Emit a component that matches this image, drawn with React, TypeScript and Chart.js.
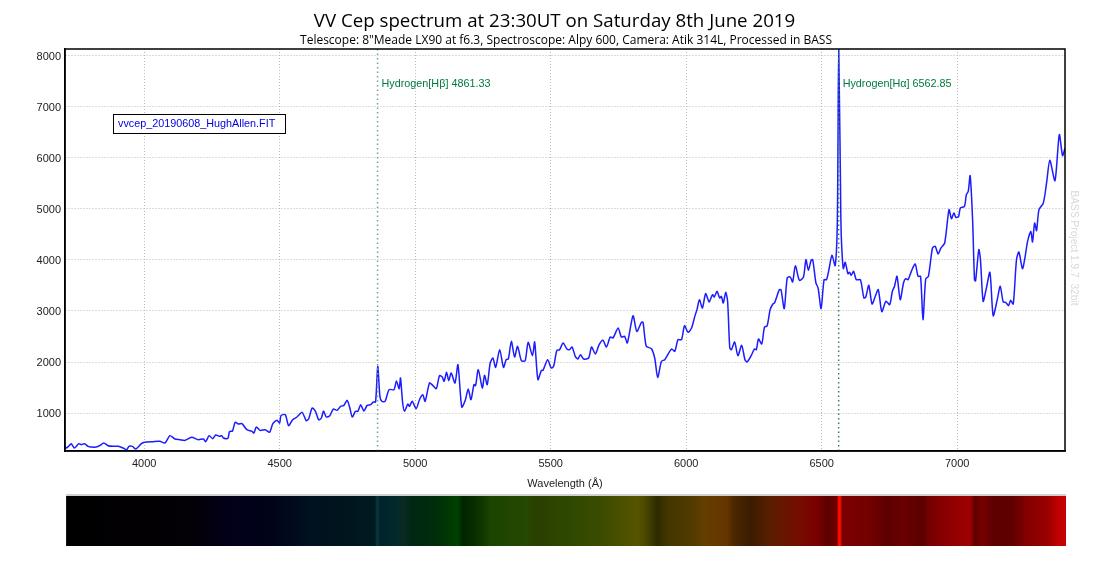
import { useEffect, useRef } from "react";
import { Chart, registerables } from "chart.js";

Chart.register(...registerables);

const TITLE = "VV Cep spectrum at 23:30UT on Saturday 8th June 2019";
const SUBTITLE = 'Telescope: 8"Meade LX90 at f6.3, Spectroscope: Alpy 600, Camera: Atik 314L, Processed in BASS';
const FILE_LABEL = "vvcep_20190608_HughAllen.FIT";
const VERSION_LABEL = "BASS Project 1.9.7  32bit";

const xTicks = [4000, 4500, 5000, 5500, 6000, 6500, 7000];
const yTicks = [1000, 2000, 3000, 4000, 5000, 6000, 7000, 8000];

const wavelengths = [
  3706, 3712, 3721, 3731, 3743, 3759, 3768, 3780, 3793, 3805, 3823, 3836, 3851, 3867, 3885, 3904, 3922, 3935, 3944, 3957,
  3969, 3990, 4002, 4033, 4058, 4077, 4095, 4114, 4132, 4151, 4175, 4200, 4219, 4227, 4240, 4253, 4264, 4278, 4286, 4293,
  4309, 4315, 4326, 4336, 4348, 4361, 4379, 4398, 4405, 4414, 4428, 4447, 4463, 4475, 4490, 4500, 4505, 4521, 4533, 4548,
  4564, 4583, 4598, 4607, 4620, 4632, 4644, 4654, 4662, 4672, 4685, 4698, 4712, 4725, 4737, 4749, 4759, 4768, 4780, 4789,
  4799, 4811, 4823, 4836, 4846, 4854, 4862, 4870, 4877, 4889, 4904, 4922, 4931, 4941, 4946, 4954, 4961, 4973, 4979, 4989,
  5004, 5016, 5028, 5037, 5053, 5065, 5078, 5090, 5100, 5107, 5116, 5124, 5133, 5147, 5158, 5172, 5185, 5196, 5206, 5217,
  5223, 5233, 5248, 5256, 5266, 5277, 5287, 5297, 5312, 5326, 5336, 5344, 5355, 5367, 5378, 5392, 5406, 5417, 5433, 5441,
  5453, 5466, 5472, 5489, 5502, 5511, 5523, 5533, 5546, 5560, 5570, 5579, 5591, 5601, 5610, 5622, 5640, 5651, 5665, 5679,
  5693, 5706, 5720, 5730, 5749, 5761, 5773, 5783, 5804, 5818, 5835, 5841, 5853, 5872, 5884, 5895, 5909, 5921, 5946, 5958,
  5970, 5983, 5994, 6007, 6020, 6032, 6040, 6049, 6060, 6072, 6085, 6097, 6104, 6114, 6124, 6130, 6137, 6146, 6153, 6161,
  6167, 6179, 6191, 6205, 6217, 6225, 6240, 6252, 6259, 6267, 6279, 6289, 6299, 6310, 6320, 6326, 6344, 6350, 6362, 6373,
  6384, 6393, 6403, 6418, 6433, 6442, 6451, 6461, 6467, 6479, 6487, 6498, 6509, 6518, 6528, 6538, 6550, 6558, 6563, 6571,
  6574, 6580, 6587, 6597, 6603, 6609, 6618, 6628, 6643, 6656, 6663, 6674, 6686, 6698, 6709, 6722, 6737, 6751, 6761, 6769,
  6778, 6790, 6802, 6810, 6819, 6831, 6845, 6856, 6865, 6874, 6884, 6894, 6909, 6919, 6930, 6940, 6954, 6970, 6979, 6988,
  6995, 7005, 7012, 7027, 7034, 7041, 7048, 7057, 7064, 7068, 7080, 7086, 7096, 7108, 7121, 7133, 7148, 7159, 7170, 7179,
  7190, 7197, 7207, 7219, 7228, 7241, 7251, 7260, 7272, 7278, 7286, 7293, 7302, 7318, 7330, 7342, 7361, 7377, 7389, 7398,
];

const flux = [
  379, 314, 346, 399, 314, 399, 379, 399, 346, 333, 333, 359, 412, 359, 346, 346, 314, 281, 346, 346,
  294, 399, 425, 438, 444, 412, 556, 490, 477, 464, 523, 477, 490, 438, 556, 497, 569, 542, 556, 510,
  503, 634, 647, 817, 784, 791, 673, 641, 608, 725, 660, 673, 621, 791, 856, 804, 948, 967, 752, 869,
  922, 1013, 850, 882, 1098, 1033, 869, 902, 1039, 922, 948, 1078, 1052, 1131, 1150, 1248, 1098, 922, 1033, 1033,
  1163, 1039, 1150, 1163, 1216, 1216, 1915, 1327, 1229, 1229, 1458, 1458, 1627, 1477, 1686, 1196, 1033, 1176, 1131, 1229,
  1085, 1261, 1359, 1229, 1588, 1542, 1477, 1732, 1706, 1621, 1797, 1634, 1784, 1588, 1948, 1118, 1248, 1471, 1261, 1556,
  1536, 1850, 1490, 1739, 1556, 1980, 2078, 1895, 2242, 1895, 2046, 2059, 2405, 2098, 2307, 2026, 2026, 2386, 2124, 2392,
  1654, 1837, 1837, 2046, 1882, 1915, 2229, 2242, 2373, 2255, 2242, 2294, 2111, 2059, 2144, 2059, 2078, 2294, 2157, 2340,
  2425, 2294, 2490, 2471, 2667, 2490, 2503, 2373, 2908, 2601, 2778, 2778, 2307, 2261, 2078, 1699, 2013, 2046, 2255, 2209,
  2438, 2438, 2712, 2582, 2667, 2895, 3026, 3222, 3059, 3340, 3176, 3320, 3275, 3386, 3255, 3288, 3157, 3366, 3190, 2275,
  2242, 2392, 2124, 2327, 2046, 2000, 2124, 2255, 2242, 2451, 2353, 2680, 2712, 3026, 3137, 3157, 3418, 3418, 3046, 3647,
  3667, 3569, 3889, 3601, 3667, 4007, 3797, 3993, 4007, 3549, 3451, 3046, 3614, 3614, 3843, 4092, 3889, 4791, 8200, 4791,
  4268, 3830, 3954, 3732, 3758, 3699, 3778, 3614, 3614, 3255, 3275, 3503, 3137, 3288, 3418, 2987, 3190, 3124, 3386, 3484,
  3680, 3222, 3549, 3634, 3614, 3778, 3922, 3680, 3680, 2830, 3627, 3680, 4235, 4268, 4118, 4235, 4333, 4987, 4810, 4922,
  4837, 4850, 5020, 5052, 5281, 5346, 5654, 4791, 3614, 3588, 4203, 4007, 3190, 3451, 3758, 2908, 3222, 3484, 3177, 3170,
  3105, 3209, 3137, 4007, 4157, 3830, 4072, 4366, 4562, 4353, 4725, 4575, 4987, 5118, 5510, 5954, 5556, 6458, 6046, 6196,
];

const lineWavelengths = [4861.33, 6562.85];
const lineLabels = ["Hydrogen[Hβ] 4861.33", "Hydrogen[Hα] 6562.85"];
const lineColors = ["#6fa596", "#3f7f6c"];

const stripWavelengths = [
  3712, 4059, 4181, 4330, 4477, 4601, 4749, 4852, 4860, 4871, 4933, 4956, 4993, 5092, 5159, 5177, 5240, 5277, 5413, 5450,
  5509, 5572, 5694, 5819, 5849, 5893, 5930, 6026, 6063, 6151, 6173, 6236, 6310, 6410, 6483, 6520, 6557, 6561, 6568, 6576,
  6679, 6742, 6801, 6875, 6893, 6963, 7048, 7066, 7092, 7122, 7196, 7258, 7332, 7373, 7398,
];
const stripColors = [
  "#000000", "#030004", "#040008", "#02001a", "#000418", "#001020", "#00151c", "#001a22", "#0a3a44", "#00222a",
  "#022b2c", "#0a2a20", "#002614", "#003008", "#004000", "#002400", "#0f3300", "#1a4400", "#264800", "#2a3e00",
  "#2d4400", "#2f4800", "#3c4c00", "#575400", "#4c4800", "#2c2a00", "#433600", "#533a00", "#643e00", "#663500",
  "#4d2800", "#3a1c00", "#5b1d00", "#730e00", "#7b0000", "#5c0000", "#700000", "#ff0000", "#ff1000", "#7b0000",
  "#730000", "#5c0000", "#6a0000", "#5a0000", "#750000", "#8c0000", "#9f0000", "#5c0000", "#7a0000", "#600000",
  "#5c0000", "#840000", "#9a0000", "#c00000", "#c80000",
];

// Title, notes and the colour strip sit outside what the axes draw
const decorationsPlugin = {
  id: "decorations",
  afterDraw(chart: Chart) {
    const { ctx, chartArea, scales } = chart;
    const x = scales.x;
    const y = scales.y;

    ctx.save();
    ctx.textBaseline = "middle";
    ctx.textAlign = "center";
    ctx.fillStyle = "#000";
    ctx.font = '18.7px "Open Sans"';
    ctx.fillText(TITLE, 554.5, 22);
    ctx.font = '12px "Open Sans"';
    ctx.fillText(SUBTITLE, 566, 41);

    // spectral line names
    ctx.textAlign = "left";
    ctx.font = '10.8px "Liberation Sans"';
    ctx.fillStyle = "#007a3d";
    lineLabels.forEach((label, i) => {
      ctx.fillText(label, x.getPixelForValue(lineWavelengths[i]) + 4, y.getPixelForValue(7450));
    });

    // file name box
    ctx.fillStyle = "#fff";
    ctx.fillRect(113.5, 114.5, 172, 19);
    ctx.strokeStyle = "#000";
    ctx.lineWidth = 1;
    ctx.strokeRect(113.5, 114.5, 172, 19);
    ctx.fillStyle = "#0000e0";
    ctx.fillText(FILE_LABEL, 118, 124);

    // version note, rotated
    ctx.save();
    ctx.translate(1074, 248);
    ctx.rotate(Math.PI / 2);
    ctx.textAlign = "center";
    ctx.fillStyle = "#d8d8d8";
    ctx.font = '10.2px "Liberation Sans"';
    ctx.fillText(VERSION_LABEL, 0, 0);
    ctx.restore();

    // colour strip
    const left = x.getPixelForValue(stripWavelengths[0]);
    const right = chartArea.right + 1;
    const grad = ctx.createLinearGradient(left, 0, right, 0);
    stripWavelengths.forEach((w, i) => {
      const pos = (x.getPixelForValue(w) - left) / (right - left);
      grad.addColorStop(Math.min(1, Math.max(0, pos)), stripColors[i]);
    });
    ctx.fillStyle = "#d0d0d0";
    ctx.fillRect(left, 494, right - left, 2);
    ctx.fillStyle = grad;
    ctx.fillRect(left, 496, right - left, 50);
    ctx.restore();
  },
};

export default function App() {
  const canvasRef = useRef<HTMLCanvasElement>(null);

  useEffect(() => {
    if (!canvasRef.current) return;
    const yMin = 255;
    const yMax = 8137;

    const chart = new Chart(canvasRef.current, {
      type: "scatter",
      data: {
        datasets: [
          {
            data: wavelengths.map((w, i) => ({ x: w, y: flux[i] })),
            showLine: true,
            borderColor: "#1c1cff",
            borderWidth: 1.5,
            tension: 0.25,
            pointRadius: 0,
            order: 2,
          },
          ...lineWavelengths.map((w, i) => ({
            data: [
              { x: w, y: yMin },
              { x: w, y: yMax },
            ],
            showLine: true,
            borderColor: lineColors[i],
            borderWidth: 1.5,
            borderDash: [1.5, 3],
            pointRadius: 0,
            order: 1,
          })),
        ],
      },
      options: {
        responsive: false,
        animation: false,
        devicePixelRatio: 1,
        layout: { padding: { top: 49, left: 20, right: 35, bottom: 82 } },
        plugins: { legend: { display: false }, tooltip: { enabled: false } },
        scales: {
          x: {
            type: "linear",
            min: 3708,
            max: 7398,
            afterFit: (scale) => {
              scale.height = 40;
            },
            afterBuildTicks: (scale) => {
              scale.ticks = xTicks.map((value) => ({ value }));
            },
            grid: { color: "#b8b8b8", drawTicks: false, lineWidth: 1 },
            border: { color: "#000", width: 1.5, dash: [1, 2] },
            ticks: {
              maxRotation: 0,
              padding: 6,
              color: "#222",
              font: { family: "Liberation Sans", size: 11 },
              callback: (v) => String(v),
            },
            title: {
              display: true,
              text: "Wavelength (Å)",
              color: "#222",
              font: { family: "Liberation Sans", size: 11 },
              padding: { top: 3, bottom: 0 },
            },
          },
          y: {
            min: yMin,
            max: yMax,
            afterFit: (scale) => {
              scale.width = 45;
            },
            afterBuildTicks: (scale) => {
              scale.ticks = yTicks.map((value) => ({ value }));
            },
            grid: { color: "#b8b8b8", drawTicks: false, lineWidth: 1 },
            border: { color: "#000", width: 1.5, dash: [1, 2] },
            ticks: {
              padding: 4,
              labelOffset: 1,
              color: "#222",
              font: { family: "Liberation Sans", size: 11 },
              callback: (v) => String(v),
            },
          },
        },
      },
      plugins: [
        decorationsPlugin,
        {
          // solid black frame around the plot, the dash above only applies to the grid
          id: "frame",
          afterDatasetsDraw(c: Chart) {
            const { ctx, chartArea: a } = c;
            ctx.save();
            ctx.strokeStyle = "#000";
            ctx.lineWidth = 1.5;
            ctx.strokeRect(a.left, a.top, a.right - a.left, a.bottom - a.top);
            ctx.restore();
          },
        },
      ],
    });

    return () => chart.destroy();
  }, []);

  return (
    <div style={{ position: "fixed", top: 0, left: 0, width: 1100, height: 573, background: "#fff" }}>
      <canvas ref={canvasRef} width={1100} height={573} style={{ display: "block" }} />
    </div>
  );
}
